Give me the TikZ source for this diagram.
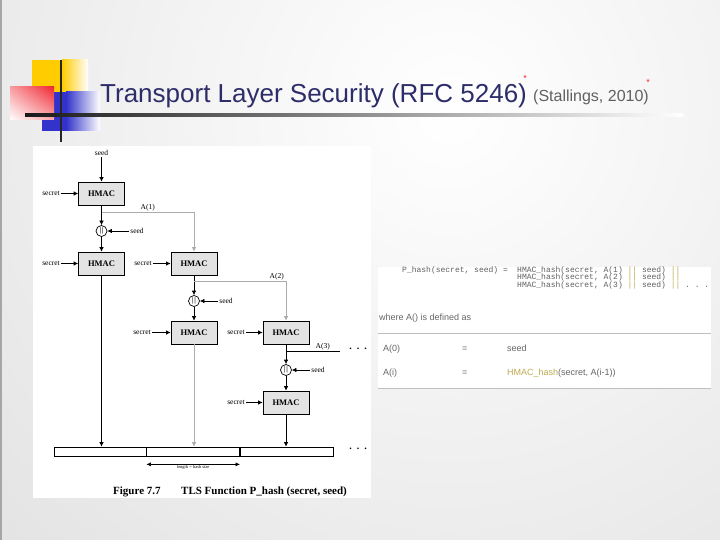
\documentclass[tikz,border=0pt]{standalone}
\usepackage{fontspec}
\setmainfont{Liberation Serif}
\setsansfont{Liberation Sans}
\setmonofont{Liberation Mono}
\usetikzlibrary{arrows.meta,shadings}

\definecolor{titleblue}{RGB}{45,45,105}
\definecolor{decoyellow}{RGB}{255,204,0}
\definecolor{decoblue}{RGB}{51,51,204}
\definecolor{decored}{RGB}{240,40,50}
\definecolor{linkolive}{RGB}{190,170,80}

\begin{document}
\begin{tikzpicture}[x=1pt,y=-1pt,
  hmac/.style={draw,line width=0.7pt,fill=gray!22,minimum width=46pt,minimum height=23pt,inner sep=0pt,font=\fontsize{8.5}{9}\selectfont\bfseries},
  lbl/.style={font=\fontsize{7.5}{8}\selectfont,inner sep=1pt},
  dots/.style={font=\fontsize{10}{10}\selectfont\bfseries,inner sep=0pt},
  cat/.style={draw,line width=0.7pt,circle,fill=white,minimum size=11pt,inner sep=0pt,font=\fontsize{7}{7}\selectfont\bfseries},
  seg/.style={draw,line width=0.7pt,minimum height=9pt,inner sep=0pt},
  arr/.style={line width=0.7pt,-{Latex[length=4.5pt,width=4.5pt]}},
  faint/.style={draw=gray!65},
  mono/.style={font=\ttfamily\fontsize{8}{9}\selectfont,text=gray!75!black,anchor=base west,inner sep=0pt},
  rowtxt/.style={font=\sffamily\fontsize{9}{10}\selectfont,text=gray!80!black,anchor=base west,inner sep=0pt}]

  % slide background
  \useasboundingbox (0,0) rectangle (720,540);
  \fill[gray!25] (0,0) rectangle (720,540);
  \begin{scope}
    \clip (0,0) rectangle (720,540);
    \shade[inner color=white,outer color=gray!27] (450,110) circle (780pt);
  \end{scope}
  \draw[gray!70,line width=1.5pt] (0.75,0) -- (0.75,540);

  % corner squares
  \fill[decoyellow] (32,60) rectangle (62,92);
  \shade[left color=decoyellow,right color=white] (62,60) rectangle (88,92);
  \fill[decoblue] (42,92) rectangle (66,131);
  \shade[left color=decoblue,right color=white] (66,92) rectangle (100,131);
  \shade[upper right=decored,upper left=decored!45!white,lower right=decored!40!white,lower left=white] (10,87) rectangle (54,120);
  \draw[black!85,line width=2.5pt] (61,60) -- (61,142);
  \shade[left color=black!90,right color=white] (25,113.8) rectangle (683,116.2);

  % title
  \node[anchor=base west,inner sep=0pt,text=titleblue,font=\sffamily\fontsize{26}{30}\selectfont] (title) at (100,103) {Transport Layer Security (RFC 5246)};
  \node[inner sep=0pt,text=decored,font=\sffamily\fontsize{9}{9}\selectfont] (star1) at (525,78) {*};
  \node[anchor=base west,inner sep=0pt,text=gray!75!black,font=\sffamily\fontsize{16}{18}\selectfont] (cite) at (533,102) {(Stallings, 2010)};
  \node[inner sep=0pt,text=decored,font=\sffamily\fontsize{9}{9}\selectfont] (star2) at (648,82) {*};

  % figure panel
  \fill[white] (33,146) rectangle (371,498);

  \node[lbl] (seed0) at (101.5,153) {seed};
  \node[hmac] (h11) at (101.5,193.5) {HMAC};
  \node[lbl] (s11) at (51,193.5) {secret};
  \draw[arr] (seed0) -- (h11);
  \draw[arr] (s11) -- (h11);

  \coordinate (j1) at (101.5,212);
  \node[cat] (c1) at (101.5,231) {|\kern0.6pt|};
  \node[lbl] (sd1) at (137,231) {seed};
  \draw[arr] (h11) -- (c1);
  \draw[arr] (sd1) -- (c1);

  \node[hmac] (h21) at (101.5,263.5) {HMAC};
  \node[lbl] (s21) at (51,263.5) {secret};
  \node[hmac] (h22) at (194,263.5) {HMAC};
  \node[lbl] (s22) at (143,263.5) {secret};
  \draw[arr] (c1) -- (h21);
  \draw[arr] (s21) -- (h21);
  \draw[arr] (s22) -- (h22);
  \draw[arr,faint] (j1) -| node[pos=0.25,above,lbl,text=black] {A(1)} (h22);

  \coordinate (j2) at (194,281);
  \node[cat] (c2) at (194,301) {|\kern0.6pt|};
  \node[lbl] (sd2) at (226,301) {seed};
  \draw[arr] (h22) -- (c2);
  \draw[arr] (sd2) -- (c2);

  \node[hmac] (h32) at (194,332.5) {HMAC};
  \node[lbl] (s32) at (142,332.5) {secret};
  \node[hmac] (h33) at (286,332.5) {HMAC};
  \node[lbl] (s33) at (236,332.5) {secret};
  \draw[arr] (c2) -- (h32);
  \draw[arr] (s32) -- (h32);
  \draw[arr] (s33) -- (h33);
  \draw[arr,faint] (j2) -| node[pos=0.45,above,lbl,text=black] {A(2)} (h33);

  \coordinate (j3) at (286,351);
  \coordinate (e3) at (340,351);
  \draw[line width=0.7pt] (j3) -- node[pos=0.68,above,lbl] {A(3)} (e3);
  \node[dots] (dots1) at (358,349) {.\ \ .\ \ .};
  \node[cat] (c3) at (286,370) {|\kern0.6pt|};
  \node[lbl] (sd3) at (318,370) {seed};
  \draw[arr] (h33) -- (c3);
  \draw[arr] (sd3) -- (c3);

  \node[hmac] (h43) at (286,402.5) {HMAC};
  \node[lbl] (s43) at (236,402.5) {secret};
  \draw[arr] (c3) -- (h43);
  \draw[arr] (s43) -- (h43);

  % output blocks
  \node[seg,minimum width=92pt] (b1) at (100,451.5) {};
  \node[seg,minimum width=93pt,anchor=west] (b2) at (b1.east) {};
  \node[seg,minimum width=93pt,anchor=west] (b3) at (b2.east) {};
  \node[dots] (dots2) at (358,449) {.\ \ .\ \ .};
  \draw[arr] (h21) -- (h21 |- b1.north);
  \draw[arr,faint] (h32) -- (h32 |- b2.north);
  \draw[arr] (h43) -- (h43 |- b3.north);
  \draw[line width=0.6pt,{Latex[length=4.5pt,width=4pt]}-{Latex[length=4.5pt,width=4pt]}]
    ([yshift=-8pt]b2.south west) -- node[below=-0.5pt,inner sep=1pt,font=\fontsize{4.5}{5}\selectfont] {length = hash size} ([yshift=-8pt]b2.south east);

  \node[anchor=base west,inner sep=0pt,font=\fontsize{11}{12}\selectfont\bfseries] (fig) at (113,494) {Figure 7.7};
  \node[anchor=base west,inner sep=0pt,font=\fontsize{11}{12}\selectfont\bfseries] (cap) at (181,494) {TLS Function P\_hash (secret, seed)};

  % definition panel
  \fill[white] (378,267) rectangle (711,388);
  \node[mono] (p0) at (402,272) {P\_hash(secret, seed) =};
  \node[mono] (p1) at (517,272) {HMAC\_hash(secret, A(1) \textcolor{linkolive}{||} seed) \textcolor{linkolive}{||}};
  \node[mono] (p2) at (517,279.5) {HMAC\_hash(secret, A(2) \textcolor{linkolive}{||} seed) \textcolor{linkolive}{||}};
  \node[mono] (p3) at (517,287) {HMAC\_hash(secret, A(3) \textcolor{linkolive}{||} seed) \textcolor{linkolive}{||} . . .};
  \node[rowtxt] (where) at (379,320) {where A() is defined as};
  \draw[gray!50,line width=0.8pt] (378,333) -- (711,333);
  \node[rowtxt] (a0) at (383,351) {A(0)};
  \node[rowtxt] (eq0) at (462,351) {=};
  \node[rowtxt] (v0) at (507,351) {seed};
  \node[rowtxt] (ai) at (383,375) {A(i)};
  \node[rowtxt] (eqi) at (462,375) {=};
  \node[rowtxt] (vi) at (507,375) {\textcolor{linkolive}{HMAC\_hash}(secret, A(i-1))};
  \draw[gray!50,line width=0.8pt] (378,388) -- (711,388);
\end{tikzpicture}
\end{document}
